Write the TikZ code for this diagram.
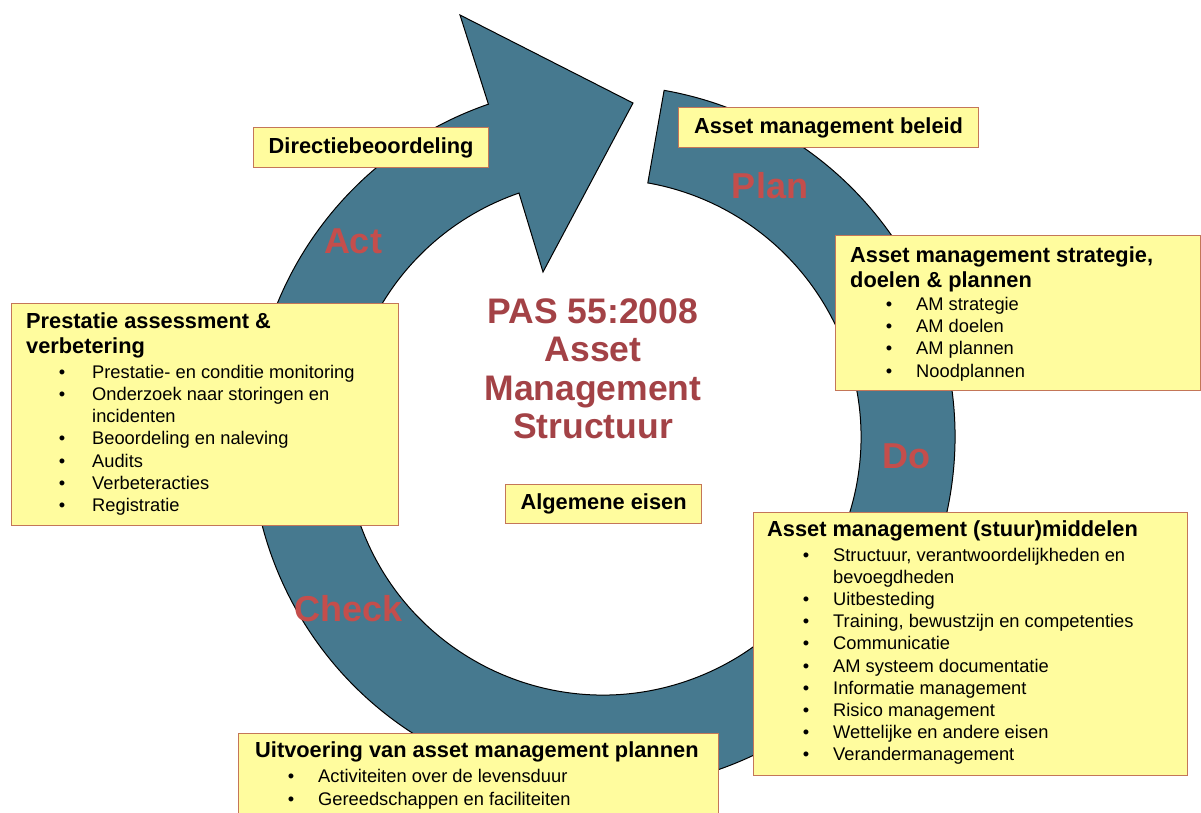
\documentclass[tikz,border=0pt]{standalone}
\usepackage{fontspec}
\setmainfont{Liberation Sans}
\usetikzlibrary{calc}
\definecolor{arrowblue}{RGB}{70,121,143}
\definecolor{boxfill}{RGB}{255,252,158}
\definecolor{boxline}{RGB}{196,118,88}
\definecolor{titlered}{RGB}{163,66,70}
\definecolor{phasered}{RGB}{196,78,76}
\newcommand\bl[2][24pt]{\llap{\textbullet\hspace{#1}}#2}
\begin{document}
\begin{tikzpicture}[x=1pt,y=-1pt,
  box/.style={draw=boxline, fill=boxfill, line width=1.2pt, inner sep=0pt, anchor=north west},
  hdr/.style={font=\fontsize{21.8}{25}\selectfont\bfseries, inner sep=0pt, anchor=base west},
  itm/.style={font=\fontsize{18.3}{22}\selectfont, inner sep=0pt, anchor=base west},
  phase/.style={font=\fontsize{36}{40}\selectfont\bfseries, text=phasered, inner sep=0pt},
  ttl/.style={font=\fontsize{35.5}{38}\selectfont\bfseries, text=titlered, inner sep=0pt, anchor=base},
]
\useasboundingbox (0,0) rectangle (1201,812);
\begin{scope}
\clip (0,0) rectangle (1201,812);
\fill[white] (0,0) rectangle (1201,812);
\coordinate (c) at (603,437);
\filldraw[fill=arrowblue, draw=black, line width=1pt, line join=miter]
 ($(c)+(-80:352)$) arc[start angle=-80, end angle=251, radius=352]
 -- (460,15) -- (633,103) -- (543,272)
 -- ($(c)+(251:258)$) arc[start angle=251, end angle=-80, radius=258] -- cycle;

% phase labels
\node[phase] (act) at (353,241) {Act};
\node[phase] (plan) at (770,186) {Plan};
\node[phase] (do) at (906,456) {Do};
\node[phase] (check) at (349,609) {Check};

% title
\node[ttl] (t1) at (593,323) {PAS 55:2008};
\node[ttl] (t2) at (593,361.5) {Asset};
\node[ttl] (t3) at (593,400) {Management};
\node[ttl] (t4) at (593,438.5) {Structuur};

% simple boxes
\node[box, minimum width=235pt, minimum height=40pt] (dir) at (253,127) {};
\node[hdr, anchor=center] (dirt) at (dir.center) {Directiebeoordeling};
\node[box, minimum width=300pt, minimum height=40pt] (bel) at (678,107) {};
\node[hdr, anchor=center] (belt) at (bel.center) {Asset management beleid};
\node[box, minimum width=196pt, minimum height=39pt] (alg) at (505,484) {};
\node[hdr, anchor=center] (algt) at (alg.center) {Algemene eisen};

% Prestatie box
\node[box, minimum width=387pt, minimum height=222pt] (pbox) at (11,303) {};
\node[hdr] (ph1) at (26,328) {Prestatie assessment \&};
\node[hdr] (ph2) at (26,353) {verbetering};
\node[itm] (pi1) at (92,378) {\bl[27pt]{Prestatie- en conditie monitoring}};
\node[itm] (pi2) at (92,400.3) {\bl[27pt]{Onderzoek naar storingen en}};
\node[itm] (pi3) at (92,422.6) {incidenten};
\node[itm] (pi4) at (92,444.9) {\bl[27pt]{Beoordeling en naleving}};
\node[itm] (pi5) at (92,467.2) {\bl[27pt]{Audits}};
\node[itm] (pi6) at (92,489.5) {\bl[27pt]{Verbeteracties}};
\node[itm] (pi7) at (92,511.8) {\bl[27pt]{Registratie}};

% Strategie box
\node[box, minimum width=365pt, minimum height=155pt] (sbox) at (835,235) {};
\node[hdr] (sh1) at (850,262) {Asset management strategie,};
\node[hdr] (sh2) at (850,287) {doelen \& plannen};
\node[itm] (si1) at (916,310) {\bl{AM strategie}};
\node[itm] (si2) at (916,332.4) {\bl{AM doelen}};
\node[itm] (si3) at (916,354.8) {\bl{AM plannen}};
\node[itm] (si4) at (916,377.2) {\bl{Noodplannen}};

% Middelen box
\node[box, minimum width=434pt, minimum height=263pt] (mbox) at (753,512) {};
\node[hdr] (mh1) at (767,536) {Asset management (stuur)middelen};
\node[itm] (mi0) at (833,561) {\bl{Structuur, verantwoordelijkheden en}};
\node[itm] (mi1) at (833,583.2) {bevoegdheden};
\node[itm] (mi2) at (833,605.4) {\bl{Uitbesteding}};
\node[itm] (mi3) at (833,627.6) {\bl{Training, bewustzijn en competenties}};
\node[itm] (mi4) at (833,649.8) {\bl{Communicatie}};
\node[itm] (mi5) at (833,672) {\bl{AM systeem documentatie}};
\node[itm] (mi6) at (833,694.2) {\bl{Informatie management}};
\node[itm] (mi7) at (833,716.4) {\bl{Risico management}};
\node[itm] (mi8) at (833,738.6) {\bl{Wettelijke en andere eisen}};
\node[itm] (mi9) at (833,760.8) {\bl{Verandermanagement}};

% Uitvoering box
\node[box, minimum width=480pt, minimum height=100pt] (ubox) at (238,733) {};
\node[hdr] (uh1) at (255,757) {Uitvoering van asset management plannen};
\node[itm] (ui1) at (318,782) {\bl{Activiteiten over de levensduur}};
\node[itm] (ui2) at (318,805) {\bl{Gereedschappen en faciliteiten}};
\end{scope}
\end{tikzpicture}
\end{document}
